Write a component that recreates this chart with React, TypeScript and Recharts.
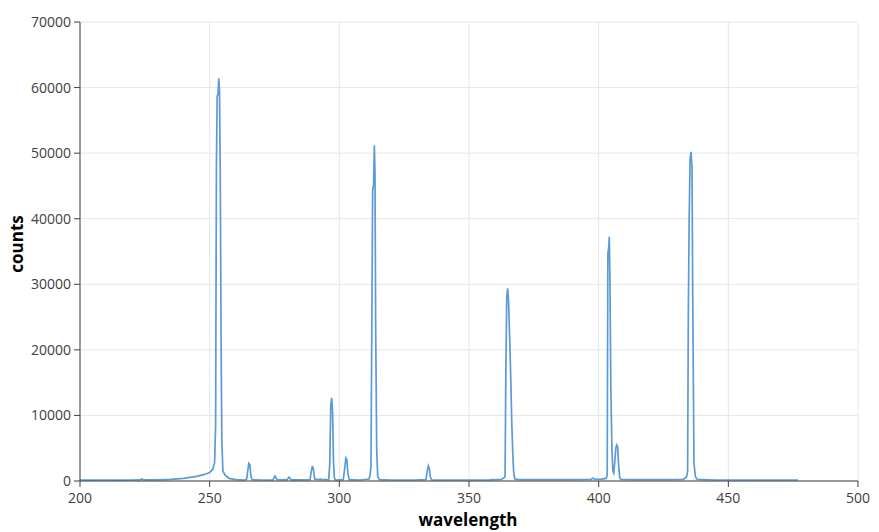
import React from "react";
import { CartesianGrid, Label, Line, LineChart, XAxis, YAxis } from "recharts";

// spectrum samples (nm, counts)
const wavelength = [
  200, 205, 210, 215, 220, 223, 223.8, 224.6, 230, 235, 240, 245, 248, 250, 251.2, 251.9, 252.3,
  252.6, 252.9, 253.2, 253.5, 253.8, 254.1, 254.4, 254.7, 255.1, 256, 257.5, 260, 263.5, 264.3,
  264.7, 265.1, 265.5, 265.9, 266.4, 270, 274.4, 275.2, 276, 279.8, 280.6, 281.4, 285, 288.7,
  289.2, 289.6, 290, 290.5, 292, 292.6, 293.2, 295.9, 296.3, 296.7, 297.05, 297.4, 297.75, 298.1,
  298.6, 301.5, 302.1, 302.5, 302.9, 303.3, 303.8, 308, 311.4, 311.8, 312.2, 312.5, 312.85, 313.2,
  313.5, 313.75, 314, 314.4, 314.8, 315.5, 320, 330, 333.4, 333.9, 334.3, 334.7, 335.1, 335.6,
  340, 350, 358, 362.5, 363.9, 364.2, 364.55, 364.9, 365.25, 365.8, 366.2, 366.5, 366.85, 367.2,
  367.6, 369, 380, 390, 397, 397.8, 398.5, 401, 402.9, 403.3, 403.55, 403.85, 404.1, 404.37,
  404.7, 405.1, 405.45, 405.8, 406.2, 406.6, 407, 407.3, 407.7, 408.1, 408.5, 412, 420, 428,
  432.5, 433.3, 433.95, 434.3, 434.57, 434.9, 435.25, 435.6, 436, 436.25, 436.5, 436.75, 437.3,
  438, 445, 460, 476.9,
];

const counts = [
  150, 140, 150, 140, 150, 160, 320, 160, 160, 250, 400, 700, 1000, 1300, 1800, 2800, 8400,
  48000, 58700, 58900, 61400, 59500, 46000, 21500, 6000, 1500, 900, 400, 200, 150, 300,
  1600, 2700, 2500, 700, 200, 150, 180, 750, 200, 170, 600, 180, 160, 200,
  1500, 2300, 1800, 300, 200, 300, 200, 200, 2500, 11500, 12700, 10500, 3000, 400,
  150, 200, 2000, 3500, 3200, 1200, 200, 150, 300, 800, 2200, 22000, 44400, 45200,
  51200, 47000, 24300, 5000, 700, 200, 150, 160, 200, 1500, 2300, 1900, 600, 180,
  150, 150, 180, 250, 600, 15900, 28000, 29400, 27500, 20200, 14000, 8800, 4500, 1500,
  350, 200, 200, 220, 250, 450, 250, 300, 400, 900, 34700, 35500, 37250, 29800,
  14000, 5200, 1500, 1200, 2800, 5000, 5500, 5200, 2500, 600, 250, 200, 220, 200,
  250, 400, 700, 1500, 25300, 40000, 49000, 50200, 47900, 29600, 16000, 2700, 660,
  250, 150, 150, 150,
];

const xTicks = [200, 250, 300, 350, 400, 450, 500];
const yTicks = [0, 10000, 20000, 30000, 40000, 50000, 60000, 70000];

const data = wavelength.map((w, i) => ({ wavelength: w, counts: counts[i] }));

const font = "'Open Sans', 'Segoe UI', sans-serif";
const axisColor = "#404040";
const tickStyle = { fill: "#404040", fontSize: 14, fontFamily: font };

// axis titles, placed like the reference
function XTitle() {
  return (
    <text x={468} y={526} textAnchor="middle" fontFamily={font} fontWeight="bold" fontSize={17} fill="#000">
      wavelength
    </text>
  );
}

function YTitle() {
  return (
    <text
      x={23}
      y={244}
      transform="rotate(-90, 23, 244)"
      textAnchor="middle"
      fontFamily={font}
      fontWeight="bold"
      fontSize={17}
      fill="#000"
    >
      counts
    </text>
  );
}

export default function App() {
  return (
    <div style={{ position: "absolute", left: 0, top: 0, width: 879, height: 532, background: "#fff" }}>
      <LineChart width={879} height={532} data={data} margin={{ top: 22, right: 21, bottom: 0, left: 0 }}>
        <CartesianGrid stroke="#e6e6e6" />
        <XAxis
          dataKey="wavelength"
          type="number"
          domain={[200, 500]}
          ticks={xTicks}
          height={51}
          tickSize={6}
          tickMargin={6}
          tick={tickStyle}
          axisLine={{ stroke: axisColor }}
          tickLine={{ stroke: axisColor }}
        >
          <Label content={XTitle} />
        </XAxis>
        <YAxis
          type="number"
          domain={[0, 70000]}
          ticks={yTicks}
          width={80}
          tickSize={6}
          tickMargin={3}
          tick={tickStyle}
          axisLine={{ stroke: axisColor }}
          tickLine={{ stroke: axisColor }}
        >
          <Label content={YTitle} />
        </YAxis>
        <Line
          type="linear"
          dataKey="counts"
          stroke="#5b9bd5"
          strokeWidth={1.7}
          dot={false}
          isAnimationActive={false}
        />
      </LineChart>
    </div>
  );
}
